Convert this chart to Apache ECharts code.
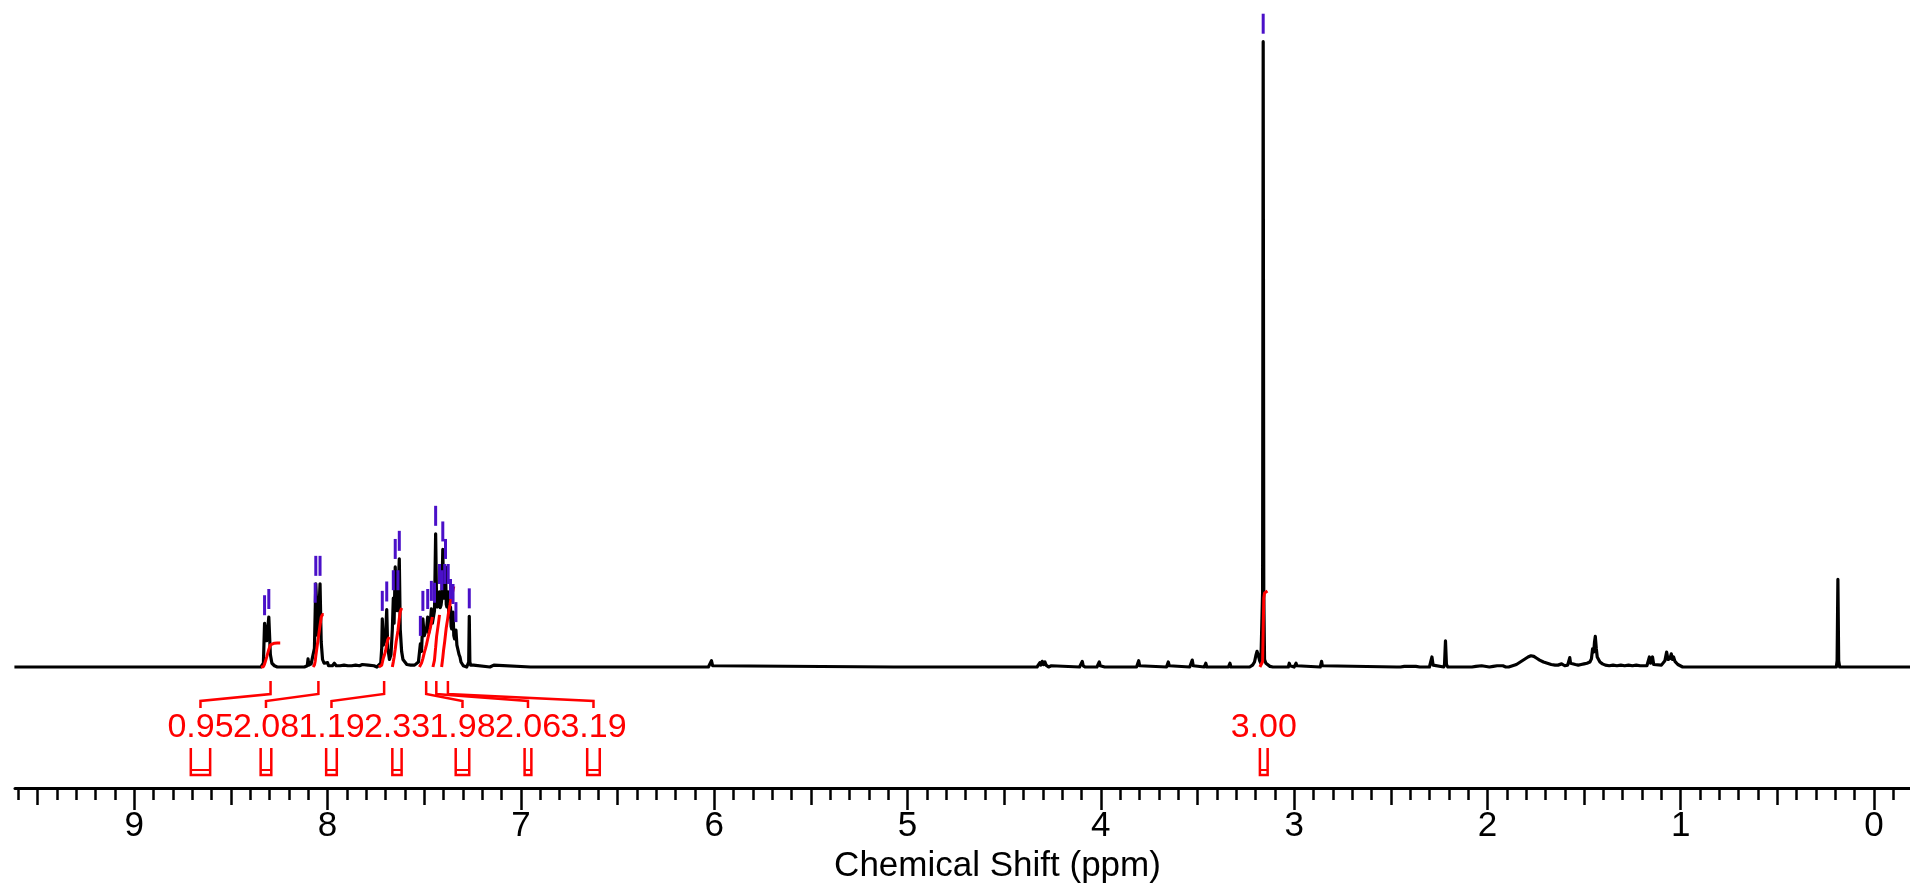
<!DOCTYPE html>
<html><head><meta charset="utf-8">
<script src="https://cdn.jsdelivr.net/npm/echarts@6/dist/echarts.min.js"></script>
<style>html,body{margin:0;padding:0;background:#fff}#c{width:1910px;height:890px}</style>
</head><body><div id="c"></div>
<script>
// 1H NMR spectrum: [chemical shift (ppm), intensity (tallest peak = 1000)]
const spectrum = [
[9.62,0],[9.00,0],[8.99,2],[8.985,0],[8.96,0],[8.955,2],[8.95,0],
[8.60,0],[8.595,1],[8.59,0],
[8.345,0],[8.338,2],[8.332,6],[8.326,70],[8.315,42],[8.304,80],[8.296,20],[8.288,6],[8.275,2],[8.26,0],
[8.20,0],[8.12,0],[8.11,3],[8.105,2],[8.101,13],[8.097,3],[8.085,5],[8.075,8],[8.068,30],[8.064,90],[8.061,133],[8.050,50],[8.039,133],[8.033,40],[8.026,12],[8.018,6],[8.010,3],
[8.000,7],[7.995,2],[7.985,5],[7.975,2],[7.965,6],[7.955,2],[7.945,4],[7.935,2],[7.925,5],[7.915,3],[7.905,6],[7.895,2],[7.885,5],[7.875,2],[7.865,4],[7.855,3],[7.845,5],[7.835,2],[7.82,4],[7.81,1],[7.79,3],[7.78,1],[7.76,2],[7.745,0],
[7.735,0],[7.725,6],[7.720,30],[7.717,77],[7.712,35],[7.706,40],[7.700,50],[7.694,92],[7.689,30],[7.686,25],[7.680,12],[7.672,20],
[7.665,60],[7.660,110],[7.656,70],[7.650,160],[7.645,100],[7.640,90],[7.636,110],[7.629,173],[7.624,60],[7.617,25],[7.610,12],[7.600,8],[7.59,4],[7.58,6],[7.57,3],[7.56,5],[7.55,3],[7.54,6],[7.53,8],
[7.525,10],[7.520,37],[7.514,25],[7.507,77],[7.500,50],[7.494,56],[7.488,60],[7.482,80],[7.477,55],[7.474,60],[7.469,70],[7.463,93],[7.458,70],[7.453,72],[7.447,90],[7.441,213],[7.436,100],[7.432,96],[7.426,100],[7.421,120],[7.417,95],[7.413,99],[7.409,110],[7.404,188],[7.400,110],[7.398,115],[7.394,120],[7.390,160],[7.386,100],[7.383,96],[7.379,100],[7.376,120],[7.373,85],[7.370,80],[7.367,85],[7.364,96],[7.361,65],[7.358,61],[7.355,65],[7.351,88],[7.347,50],[7.343,45],[7.339,48],[7.336,59],[7.331,35],[7.326,32],[7.320,20],[7.315,16],[7.310,8],[7.305,5],[7.298,2],[7.290,0],
[7.280,0],[7.274,3],[7.270,8],[7.267,81],[7.264,8],[7.260,3],[7.255,0],[7.245,3],[7.24,0],
[7.16,0],[7.155,3],[7.15,1],[7.14,3],[7.135,0],
[6.95,0],[6.945,2],[6.94,0],
[6.03,0],[6.02,2],[6.014,10],[6.008,2],[6.00,0],
[5.07,0],[5.062,2],[5.055,0],
[4.33,0],[4.320,2],[4.315,7],[4.310,3],[4.303,9],[4.296,4],[4.289,8],[4.283,3],[4.277,5],[4.270,0],
[4.26,0],[4.256,2],[4.25,0],
[4.11,0],[4.101,2],[4.096,9],[4.091,2],[4.08,0],
[4.05,0],[4.045,2],[4.04,0],[4.02,0],[4.013,2],[4.008,8],[4.003,2],[3.995,0],
[3.98,0],[3.975,2],[3.97,0],[3.94,0],[3.935,2],[3.93,0],[3.90,0],[3.895,2],[3.89,0],[3.87,0],[3.865,2],[3.86,0],
[3.815,0],[3.809,2],[3.804,10],[3.799,2],[3.79,0],
[3.66,0],[3.656,2],[3.651,8],[3.646,2],[3.64,0],
[3.54,0],[3.532,2],[3.527,11],[3.522,2],[3.515,0],
[3.465,0],[3.461,2],[3.457,6],[3.452,0],
[3.34,0],[3.336,2],[3.332,6],[3.327,0],
[3.23,0],[3.215,3],[3.205,8],[3.198,18],[3.192,25],[3.186,20],[3.178,10],[3.172,6],[3.167,8],[3.163,120],[3.160,1000],[3.157,120],[3.153,12],[3.146,6],[3.138,3],[3.125,1],[3.11,0],
[3.03,0],[3.029,2],[3.025,6],[3.021,2],[3.00,0],[2.994,2],[2.990,6],[2.986,2],[2.98,0],
[2.865,0],[2.862,2],[2.858,9],[2.854,2],[2.85,0],
[2.47,0],[2.46,2],[2.45,0],[2.44,2],[2.43,1],[2.42,2],[2.40,1],[2.39,2],[2.37,1],[2.36,2],[2.35,0],
[2.30,0],[2.294,3],[2.287,16],[2.281,3],[2.275,0],
[2.226,0],[2.222,4],[2.217,42],[2.212,4],[2.205,0],
[2.13,0],[2.12,2],[2.11,0],[2.08,0],[2.07,2],[2.06,1],[2.03,2],[2.02,0],[1.99,0],[1.98,2],[1.97,1],[1.95,2],[1.94,1],[1.92,2],[1.905,0],
[1.89,0],[1.87,2],[1.85,4],[1.83,8],[1.81,12],[1.79,16],[1.775,18],[1.76,17],[1.745,14],[1.73,11],[1.71,8],[1.69,6],[1.67,4],[1.65,3],[1.635,3],
[1.625,4],[1.616,5],[1.610,3],[1.60,2],[1.585,3],[1.578,6],[1.574,15],[1.570,6],[1.56,3],[1.545,4],[1.53,3],[1.515,4],[1.50,5],[1.485,6],[1.47,8],[1.462,13],[1.456,29],[1.450,24],[1.446,40],[1.442,49],[1.437,30],[1.432,16],[1.425,13],[1.418,8],[1.411,11],[1.405,5],[1.40,4],[1.39,3],[1.37,2],[1.35,3],[1.33,2],[1.31,3],[1.29,2],[1.27,3],[1.25,2],[1.23,3],[1.21,2],[1.19,2],[1.175,2],
[1.168,4],[1.162,16],[1.156,6],[1.151,7],[1.146,16],[1.140,4],[1.13,2],[1.10,3],[1.09,5],[1.082,10],[1.073,24],[1.066,12],[1.061,10],[1.055,14],[1.049,21],[1.043,12],[1.037,16],[1.030,9],[1.022,8],[1.015,4],[1.005,2],[0.99,0],
[0.40,0],[0.395,1],[0.39,0],
[0.26,0],[0.257,1],[0.254,3],[0.250,1],[0.245,0],
[0.195,0],[0.191,10],[0.187,140],[0.183,10],[0.178,0],
[0.04,0],[0.033,2],[0.028,0],
[-0.19,0]
];

// picked peaks: [ppm, intensity]
const peakMarks = [
[8.326,70],[8.304,80],
[8.064,90],[8.061,133],[8.039,133],
[7.717,77],[7.694,92],
[7.660,110],[7.650,160],[7.636,110],[7.629,173],
[7.520,37],[7.507,77],[7.482,80],[7.463,93],[7.447,90],[7.441,213],[7.421,120],[7.409,110],[7.404,188],[7.394,120],[7.390,160],[7.376,120],[7.364,96],[7.351,88],[7.336,59],
[7.267,81],
[3.160,1000]
];

// integral regions
const integralFrom   = [8.345, 8.075, 7.735, 7.665, 7.525, 7.455, 7.410, 3.177];
const integralTo     = [8.245, 8.020, 7.680, 7.617, 7.455, 7.420, 7.345, 3.137];
const integralValues = [0.95, 2.08, 1.19, 2.33, 1.98, 2.06, 3.19, 3.00];

// axis ticks
const majorTicks = [0,1,2,3,4,5,6,7,8,9];
const halfTicks = [0.5,1.5,2.5,3.5,4.5,5.5,6.5,7.5,8.5,9.5];
const minorTicks = [];
for (let k = -1; k <= 96; k++) { if (k % 5 !== 0) minorTicks.push(k / 10); }

const FONT = 'Liberation Sans';
const RED = '#ff0000';
const PURPLE = '#4a10c8';
const INTEGRAL_UNITS = 40.46; // curve height per integral unit (intensity units)
const LABEL_SPACING = 65.5;

function integralCurve(i) {
  const a = integralFrom[i], b = integralTo[i];
  const pts = spectrum.filter(p => p[0] <= a && p[0] >= b);
  const cum = [];
  let area = 0;
  for (let k = 0; k < pts.length; k++) {
    if (k > 0) area += (pts[k][1] + pts[k-1][1]) / 2 * (pts[k-1][0] - pts[k][0]);
    cum.push([pts[k][0], area]);
  }
  const scale = integralValues[i] * INTEGRAL_UNITS / area;
  const out = [[a, 0]];
  cum.forEach(c => out.push([c[0], c[1] * scale]));
  out.push([b, area * scale]);
  return out;
}

function labelLayout(api) {
  const items = integralValues.map((v, i) => ({ i, c: api.coord([(integralFrom[i] + integralTo[i]) / 2, 0])[0] }));
  items.sort((p, q) => p.c - q.c);
  let clusters = items.map(it => ({ members: [it] }));
  function place(cl) {
    const cs = cl.members.map(m => m.c).sort((p, q) => p - q);
    const n = cs.length;
    const med = n % 2 ? cs[(n - 1) / 2] : (cs[n / 2 - 1] + cs[n / 2]) / 2;
    cl.pos = cl.members.map((m, k) => med + (k - (n - 1) / 2) * LABEL_SPACING);
    cl.left = cl.pos[0] - LABEL_SPACING / 2;
    cl.right = cl.pos[n - 1] + LABEL_SPACING / 2;
  }
  clusters.forEach(place);
  let merged = true;
  while (merged) {
    merged = false;
    for (let j = 0; j < clusters.length - 1; j++) {
      if (clusters[j].right > clusters[j + 1].left + 0.01) {
        const m = { members: clusters[j].members.concat(clusters[j + 1].members) };
        place(m);
        clusters.splice(j, 2, m);
        merged = true;
        break;
      }
    }
  }
  const res = {};
  clusters.forEach(cl => cl.members.forEach((m, k) => { res[m.i] = { x: cl.pos[k], c: m.c }; }));
  return res;
}

const integralSeries = integralValues.map((v, i) => ({
  type: 'line', data: integralCurve(i), showSymbol: false, silent: true, z: 4,
  lineStyle: { color: RED, width: 3 }
}));

const chart = echarts.init(document.getElementById('c'), null, { renderer: 'canvas' });
chart.setOption({
  animation: false,
  backgroundColor: '#fff',
  grid: { left: 15, right: 0, top: 0, bottom: 102 },
  xAxis: [
    {
      type: 'value', inverse: true, min: -0.186, max: 9.617, position: 'bottom',
      axisLine: { onZero: false, lineStyle: { color: '#000', width: 3 } },
      axisTick: { customValues: majorTicks, length: 22, lineStyle: { color: '#000', width: 2.5 } },
      axisLabel: { customValues: majorTicks, margin: 21, color: '#000', fontSize: 35, fontFamily: FONT },
      splitLine: { show: false },
      name: 'Chemical Shift (ppm)', nameLocation: 'middle', nameGap: 55,
      nameTextStyle: { color: '#000', fontSize: 35, fontFamily: FONT, padding: [0, 0, 0, 70] }
    },
    {
      type: 'value', inverse: true, min: -0.186, max: 9.617, position: 'bottom',
      axisLine: { show: false, onZero: false },
      axisTick: { customValues: halfTicks, length: 17, lineStyle: { color: '#000', width: 2.5 } },
      axisLabel: { show: false }, splitLine: { show: false }
    },
    {
      type: 'value', inverse: true, min: -0.186, max: 9.617, position: 'bottom',
      axisLine: { show: false, onZero: false },
      axisTick: { customValues: minorTicks, length: 12, lineStyle: { color: '#000', width: 2.5 } },
      axisLabel: { show: false }, splitLine: { show: false }
    }
  ],
  yAxis: { type: 'value', min: -193.5, max: 1066.7, show: false },
  series: [
    {
      type: 'line', data: spectrum, showSymbol: false, silent: true, z: 3,
      lineStyle: { color: '#000', width: 3.2, join: 'round' }
    },
    ...integralSeries,
    {
      type: 'custom', data: peakMarks, z: 5, silent: true,
      renderItem: function (params, api) {
        const p = api.coord([api.value(0), api.value(1)]);
        return { type: 'line', shape: { x1: p[0], y1: p[1] - 8, x2: p[0], y2: p[1] - 28 },
          style: { stroke: PURPLE, lineWidth: 3 } };
      }
    },
    {
      type: 'custom', z: 6, silent: true,
      data: integralValues.map((v, i) => [(integralFrom[i] + integralTo[i]) / 2, 0, v]),
      renderItem: function (params, api) {
        const i = params.dataIndex;
        const lay = labelLayout(api)[i];
        const base = api.coord([0, 0])[1];
        const cx = lay.c, lx = lay.x;
        const w = Math.abs(api.coord([integralFrom[i], 0])[0] - api.coord([integralTo[i], 0])[0]) / 2;
        const children = [];
        if (Math.abs(lx - cx) > 1) {
          children.push({ type: 'polyline', shape: { points: [[cx, base + 14], [cx, base + 27], [lx, base + 34], [lx, base + 41]] },
            style: { stroke: RED, lineWidth: 2.5, fill: null } });
        }
        children.push({ type: 'text', style: { text: integralValues[i].toFixed(2), x: lx, y: base + 61,
          fill: RED, fontSize: 34, fontFamily: FONT, align: 'center', verticalAlign: 'middle' } });
        children.push({ type: 'polyline', shape: { points: [[lx - w, base + 81], [lx - w, base + 108], [lx + w, base + 108], [lx + w, base + 81]] },
          style: { stroke: RED, lineWidth: 2.5, fill: null } });
        children.push({ type: 'line', shape: { x1: lx - w, y1: base + 103, x2: lx + w, y2: base + 103 },
          style: { stroke: RED, lineWidth: 2 } });
        return { type: 'group', children };
      }
    }
  ]
});
</script>
</body></html>
